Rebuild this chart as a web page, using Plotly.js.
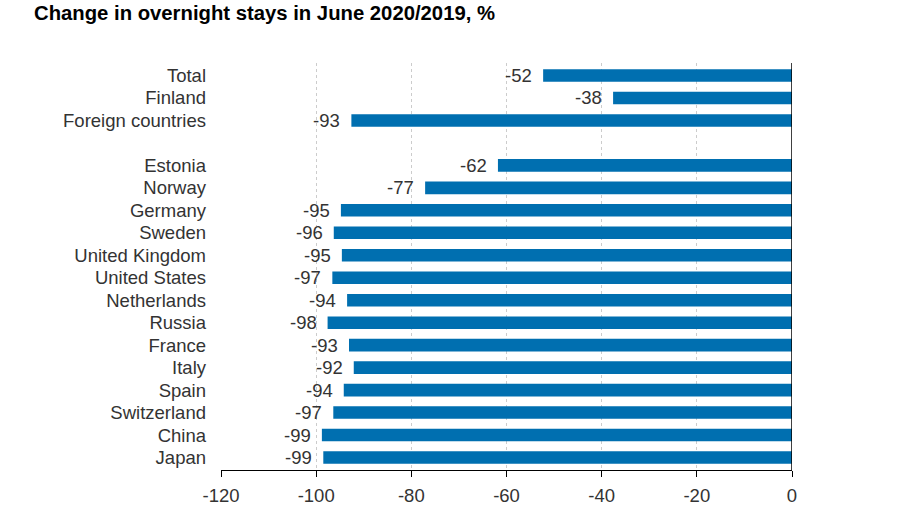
<!DOCTYPE html>
<html>
<head>
<meta charset="utf-8">
<script src="https://cdn.plot.ly/plotly-3.0.1.min.js"></script>
<style>
  html, body { margin: 0; padding: 0; background: #fff; }
  #chart { width: 899px; height: 506px; }
</style>
</head>
<body>
<div id="chart"></div>
<script>
// categories top to bottom, the " " slot is the gap between groups
const categories = [
    "Total", "Finland", "Foreign countries", " ",
    "Estonia", "Norway", "Germany", "Sweden", "United Kingdom", "United States",
    "Netherlands", "Russia", "France", "Italy", "Spain", "Switzerland", "China", "Japan"
];
const change_values = [
    -52.3, -37.6, -92.6, null,
    -61.8, -77.1, -94.8, -96.3, -94.6, -96.6,
    -93.5, -97.6, -93.1, -92.1, -94.2, -96.4, -98.8, -98.5
];
const value_labels = [
    "-52", "-38", "-93", "",
    "-62", "-77", "-95", "-96", "-95", "-97",
    "-94", "-98", "-93", "-92", "-94", "-97", "-99", "-99"
];
const x_ticks = [-120, -100, -80, -60, -40, -20, 0];

const bar_color = "#006fb0";
const label_font = {family: "Liberation Sans, Arial, sans-serif", size: 18.5, color: "#333"};

const trace = {
    type: 'bar',
    orientation: 'h',
    x: change_values,
    y: categories,
    marker: {color: bar_color, line: {width: 0}},
    width: 0.56,
    hoverinfo: 'skip'
};

const annotations = categories
    .map((cat, ind) => [cat, change_values[ind], value_labels[ind]])
    .filter(([cat, val]) => val !== null)
    .map(([cat, val, txt]) => ({
        x: val,
        y: cat,
        xref: 'x',
        yref: 'y',
        text: txt,
        showarrow: false,
        xanchor: 'right',
        yanchor: 'middle',
        xshift: -9,
        font: label_font
    }));

const layout = {
    width: 899,
    height: 506,
    paper_bgcolor: '#fff',
    plot_bgcolor: '#fff',
    margin: {l: 221, r: 107, t: 63, b: 36},
    showlegend: false,
    title: {
        text: "<b>Change in overnight stays in June 2020/2019, %</b>",
        x: 34 / 899,
        xanchor: 'left',
        xref: 'container',
        y: 1 - 13 / 506,
        yanchor: 'middle',
        yref: 'container',
        font: {family: "Liberation Sans, Arial, sans-serif", size: 20.3, color: "#000"}
    },
    xaxis: {
        range: [-120, 0],
        tickvals: x_ticks,
        ticktext: x_ticks.map(String),
        showgrid: true,
        gridcolor: '#cccccc',
        griddash: 'dot',
        gridwidth: 1,
        zeroline: false,
        showline: true,
        linecolor: '#000',
        linewidth: 1,
        ticks: 'outside',
        ticklen: 6,
        tickcolor: '#000',
        ticklabelstandoff: 3,
        tickfont: label_font,
        fixedrange: true
    },
    yaxis: {
        type: 'category',
        categoryorder: 'array',
        categoryarray: categories,
        autorange: 'reversed',
        showgrid: false,
        zeroline: false,
        showline: false,
        ticks: '',
        ticklabelstandoff: 14,
        tickfont: label_font,
        fixedrange: true
    },
    shapes: [{
        type: 'line',
        xref: 'x', yref: 'paper',
        x0: 0, x1: 0, y0: 0, y1: 1,
        line: {color: '#000', width: 1.5}
    }],
    annotations: annotations,
    bargap: 0.44
};

Plotly.newPlot('chart', [trace], layout, {displayModeBar: false, staticPlot: true});
</script>
</body>
</html>
